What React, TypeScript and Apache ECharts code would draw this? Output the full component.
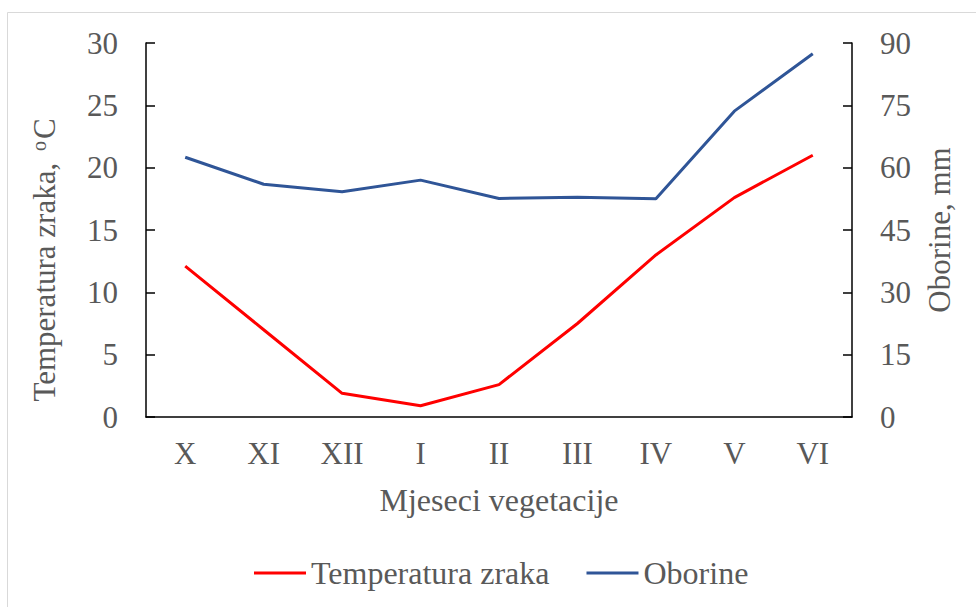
import React, { useEffect, useRef } from "react";
import * as echarts from "echarts";

const categories = ["X", "XI", "XII", "I", "II", "III", "IV", "V", "VI"];
const temperatura = [12.1, 7.0, 1.9, 0.9, 2.6, 7.5, 13.0, 17.6, 21.0];
const oborine = [62.5, 56.0, 54.2, 57.0, 52.6, 52.9, 52.5, 73.6, 87.4];
const leftTicks = { min: 0, max: 30, interval: 5 };
const rightTicks = { min: 0, max: 90, interval: 15 };

const FONT = "Liberation Serif";
const TXT = "#595959";
const FS = 31;

export default function App() {
  const ref = useRef<HTMLDivElement>(null);
  useEffect(() => {
    if (!ref.current) return;
    const chart = echarts.init(ref.current, undefined, { renderer: "svg" });
    chart.setOption({
      animation: false,
      textStyle: { fontFamily: FONT },
      grid: { left: 146, right: 124, top: 43, bottom: 190, containLabel: false },
      graphic: [
        {
          type: "rect",
          shape: { x: 7.5, y: 12.5, width: 990, height: 640 },
          style: { fill: "none", stroke: "#d9d9d9", lineWidth: 1 },
          silent: true,
        },
        {
          type: "text",
          x: 44,
          y: 260,
          rotation: Math.PI / 2,
          style: {
            text: "Temperatura zraka, {sup|o}C",
            fill: TXT,
            fontSize: FS,
            fontFamily: FONT,
            align: "center",
            verticalAlign: "middle",
            rich: {
              sup: { fontSize: 20, verticalAlign: "top", fill: TXT, fontFamily: FONT, padding: [0, 2, 10, 4] },
            },
          },
        },
      ],
      legend: {
        bottom: 13,
        left: 249,
        itemWidth: 52,
        itemHeight: 3,
        itemGap: 37,
        icon: "rect",
        textStyle: { color: TXT, fontSize: FS + 1, fontFamily: FONT },
        data: ["Temperatura zraka", "Oborine"],
      },
      xAxis: {
        type: "category",
        data: categories,
        boundaryGap: true,
        axisLine: { show: true, lineStyle: { color: "#000", width: 1.5 } },
        axisTick: { show: false },
        axisLabel: { color: TXT, fontSize: FS, fontFamily: FONT, margin: 21 },
        name: "Mjeseci vegetacije",
        nameLocation: "middle",
        nameGap: 67,
        nameTextStyle: { color: TXT, fontSize: FS + 1, fontFamily: FONT },
      },
      yAxis: [
        {
          type: "value",
          ...leftTicks,
          position: "left",
          splitLine: { show: false },
          axisLine: { show: true, lineStyle: { color: "#000", width: 1.5 } },
          axisTick: { show: true, inside: true, length: 9, lineStyle: { color: "#000", width: 1.5 } },
          axisLabel: { color: TXT, fontSize: FS, fontFamily: FONT, margin: 28 },
        },
        {
          type: "value",
          ...rightTicks,
          position: "right",
          splitLine: { show: false },
          axisLine: { show: true, lineStyle: { color: "#000", width: 1.5 } },
          axisTick: { show: true, inside: true, length: 9, lineStyle: { color: "#000", width: 1.5 } },
          axisLabel: { color: TXT, fontSize: FS, fontFamily: FONT, margin: 28 },
          name: "Oborine, mm",
          nameLocation: "middle",
          nameGap: 72,
          nameRotate: 90,
          nameTextStyle: { color: TXT, fontSize: FS, fontFamily: FONT },
        },
      ],
      series: [
        {
          name: "Temperatura zraka",
          type: "line",
          yAxisIndex: 0,
          data: temperatura,
          symbol: "none",
          lineStyle: { color: "#FF0000", width: 3 },
          itemStyle: { color: "#FF0000" },
        },
        {
          name: "Oborine",
          type: "line",
          yAxisIndex: 1,
          data: oborine,
          symbol: "none",
          lineStyle: { color: "#2F5597", width: 3 },
          itemStyle: { color: "#2F5597" },
        },
      ],
    });
    return () => chart.dispose();
  }, []);
  return (
    <div
      ref={ref}
      style={{ position: "absolute", left: 0, top: 0, width: 976, height: 607, background: "#fff" }}
    />
  );
}
